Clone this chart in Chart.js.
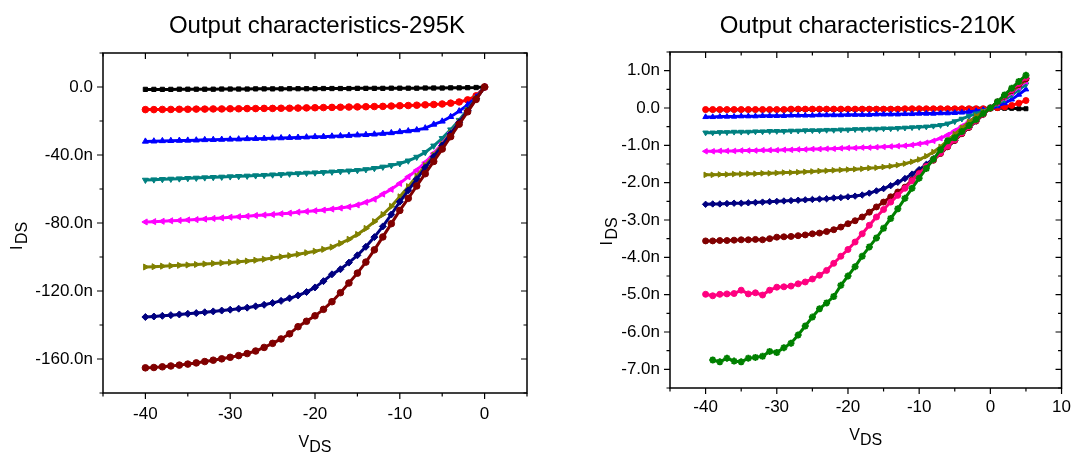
<!DOCTYPE html>
<html>
<head>
<meta charset="utf-8">
<script src="https://cdn.jsdelivr.net/npm/chart.js@4/dist/chart.umd.min.js"></script>
<style>
  body { margin: 0; background: #fff; }
  .box { position: absolute; top: 0; width: 540px; height: 453px; }
</style>
</head>
<body>
<div class="box" style="left:0"><canvas id="chart295"></canvas></div>
<div class="box" style="left:540px"><canvas id="chart210"></canvas></div>
<script>
// ---- 295K data (V_DS in V, I_DS in nA) ----
const vLeft = [-40,-39,-38,-37,-36,-35,-34,-33,-32,-31,-30,-29,-28,-27,-26,-25,-24,-23,-22,-21,-20,-19,-18,-17,-16,-15,-14,-13,-12,-11,-10,-9,-8,-7,-6,-5,-4,-3,-2,-1,0];
const blackL = [-1.4,-1.4,-1.4,-1.4,-1.3,-1.3,-1.3,-1.3,-1.3,-1.2,-1.2,-1.2,-1.2,-1.1,-1.1,-1.1,-1.1,-1.0,-1.0,-1.0,-1.0,-0.9,-0.9,-0.9,-0.9,-0.8,-0.8,-0.8,-0.8,-0.7,-0.7,-0.7,-0.7,-0.6,-0.6,-0.6,-0.5,-0.5,-0.4,-0.3,0];
const redL = [-13.3,-13.3,-13.2,-13.2,-13.1,-13.1,-13.0,-13.0,-12.9,-12.9,-12.8,-12.8,-12.7,-12.7,-12.6,-12.6,-12.5,-12.5,-12.4,-12.3,-12.2,-12.1,-12.0,-11.9,-11.8,-11.7,-11.6,-11.5,-11.4,-11.2,-11.0,-10.9,-10.7,-10.5,-10.3,-10.0,-9.5,-8.8,-7.6,-5.2,0];
const blueL = [-32.0,-31.9,-31.7,-31.6,-31.5,-31.4,-31.3,-31.1,-31.0,-30.9,-30.8,-30.7,-30.5,-30.4,-30.3,-30.1,-30.0,-29.8,-29.7,-29.5,-29.3,-29.2,-29.0,-28.8,-28.6,-28.3,-28.1,-27.8,-27.4,-27.0,-26.4,-25.9,-25.3,-24.2,-22.0,-20.2,-17.5,-14.2,-10.5,-6.0,0];
const tealL = [-54.7,-54.5,-54.3,-54.1,-53.9,-53.7,-53.5,-53.3,-53.1,-52.9,-52.7,-52.5,-52.3,-52.1,-51.9,-51.6,-51.4,-51.1,-50.9,-50.6,-50.4,-50.2,-49.9,-49.6,-49.3,-49.0,-48.5,-47.8,-47.0,-46.1,-45.0,-43.4,-41.2,-38.4,-34.6,-30.2,-25.1,-19.5,-13.2,-6.6,0];
const magentaL = [-79.4,-79.2,-79.0,-78.7,-78.5,-78.2,-78.0,-77.7,-77.3,-77.0,-76.6,-76.3,-76.0,-75.6,-75.3,-75.0,-74.6,-74.2,-73.6,-73.2,-72.8,-72.4,-71.8,-71.2,-70.5,-69.4,-67.8,-66.0,-63.0,-60.2,-56.7,-52.8,-48.9,-44.4,-39.0,-33.2,-27.0,-20.8,-14.0,-7.0,0];
const oliveL = [-105.9,-105.7,-105.4,-105.2,-104.9,-104.7,-104.4,-104.1,-103.8,-103.5,-103.2,-102.8,-102.4,-101.9,-101.3,-100.6,-99.9,-99.2,-98.4,-97.5,-96.6,-95.5,-94.2,-92.0,-89.6,-86.7,-83.2,-79.2,-75.0,-70.2,-64.6,-58.6,-52.4,-46.2,-40.1,-33.8,-27.2,-20.5,-13.7,-6.8,0];
const navyL = [-135.3,-135.0,-134.6,-134.2,-133.8,-133.4,-133.0,-132.5,-132.0,-131.5,-131.0,-130.4,-129.8,-129.0,-128.1,-127.0,-125.8,-124.3,-122.6,-120.6,-117.9,-114.2,-110.2,-107.2,-103.3,-99.0,-94.0,-88.3,-82.0,-75.0,-67.5,-60.8,-54.2,-47.4,-41.0,-34.4,-27.6,-20.8,-13.9,-6.9,0];
const maroonL = [-165.2,-165.0,-164.6,-164.1,-163.6,-163.0,-162.3,-161.5,-160.7,-159.9,-159.0,-158.0,-156.8,-155.3,-153.2,-150.8,-148.2,-145.2,-141.0,-137.8,-134.6,-130.8,-126.3,-121.0,-115.3,-109.5,-103.0,-95.8,-88.2,-80.4,-72.6,-65.5,-58.2,-51.0,-43.8,-36.5,-29.2,-21.9,-14.6,-7.3,0];

// ---- 210K data (V_DS in V, I_DS in nA) ----
const vRight = [-40,-39,-38,-37,-36,-35,-34,-33,-32,-31,-30,-29,-28,-27,-26,-25,-24,-23,-22,-21,-20,-19,-18,-17,-16,-15,-14,-13,-12,-11,-10,-9,-8,-7,-6,-5,-4,-3,-2,-1,0,1,2,3,4,5];
const blackR = [-0.05,-0.05,-0.05,-0.05,-0.05,-0.05,-0.05,-0.05,-0.05,-0.05,-0.05,-0.05,-0.05,-0.04,-0.04,-0.04,-0.04,-0.04,-0.04,-0.04,-0.04,-0.04,-0.03,-0.03,-0.03,-0.03,-0.03,-0.03,-0.03,-0.03,-0.03,-0.03,-0.02,-0.02,-0.02,-0.02,-0.02,-0.01,-0.01,-0.01,0,-0.01,-0.01,-0.01,-0.02,-0.02];
const redR = [-0.04,-0.04,-0.04,-0.04,-0.04,-0.04,-0.04,-0.04,-0.04,-0.04,-0.04,-0.04,-0.03,-0.03,-0.03,-0.03,-0.03,-0.03,-0.03,-0.03,-0.03,-0.03,-0.03,-0.03,-0.03,-0.03,-0.03,-0.03,-0.02,-0.02,-0.02,-0.02,-0.02,-0.02,-0.02,-0.02,-0.02,-0.02,-0.02,-0.02,-0.01,0.01,0.03,0.07,0.13,0.20];
const blueR = [-0.24,-0.24,-0.23,-0.23,-0.23,-0.22,-0.22,-0.22,-0.21,-0.21,-0.21,-0.21,-0.20,-0.20,-0.20,-0.20,-0.19,-0.19,-0.19,-0.19,-0.18,-0.18,-0.18,-0.18,-0.17,-0.17,-0.17,-0.17,-0.16,-0.16,-0.15,-0.15,-0.15,-0.14,-0.14,-0.13,-0.12,-0.10,-0.08,-0.05,-0.02,0.05,0.13,0.23,0.36,0.50];
const tealR = [-0.66,-0.66,-0.65,-0.65,-0.64,-0.64,-0.64,-0.63,-0.63,-0.62,-0.62,-0.62,-0.61,-0.61,-0.60,-0.60,-0.60,-0.59,-0.59,-0.58,-0.58,-0.57,-0.57,-0.56,-0.56,-0.55,-0.55,-0.54,-0.53,-0.52,-0.51,-0.50,-0.48,-0.46,-0.42,-0.36,-0.29,-0.22,-0.15,-0.08,0,0.10,0.22,0.35,0.49,0.63];
const magentaR = [-1.16,-1.16,-1.15,-1.15,-1.15,-1.14,-1.14,-1.14,-1.13,-1.13,-1.13,-1.12,-1.12,-1.11,-1.11,-1.10,-1.10,-1.09,-1.09,-1.08,-1.07,-1.07,-1.06,-1.06,-1.05,-1.04,-1.03,-1.02,-1.01,-0.99,-0.96,-0.93,-0.88,-0.81,-0.72,-0.61,-0.49,-0.36,-0.24,-0.12,0,0.13,0.27,0.41,0.56,0.71];
const oliveR = [-1.79,-1.79,-1.78,-1.78,-1.77,-1.77,-1.76,-1.76,-1.75,-1.75,-1.74,-1.73,-1.73,-1.72,-1.71,-1.70,-1.69,-1.68,-1.67,-1.66,-1.65,-1.64,-1.63,-1.61,-1.60,-1.58,-1.56,-1.53,-1.49,-1.44,-1.38,-1.29,-1.18,-1.04,-0.87,-0.70,-0.53,-0.37,-0.22,-0.10,0,0.14,0.29,0.44,0.60,0.75];
const navyR = [-2.58,-2.57,-2.57,-2.56,-2.55,-2.55,-2.54,-2.53,-2.52,-2.51,-2.50,-2.49,-2.48,-2.47,-2.46,-2.45,-2.44,-2.43,-2.41,-2.40,-2.38,-2.36,-2.33,-2.28,-2.22,-2.16,-2.08,-1.99,-1.89,-1.77,-1.65,-1.51,-1.36,-1.20,-1.04,-0.87,-0.69,-0.52,-0.35,-0.17,0,0.16,0.32,0.48,0.64,0.79];
const maroonR = [-3.56,-3.56,-3.55,-3.55,-3.54,-3.53,-3.53,-3.52,-3.53,-3.50,-3.46,-3.45,-3.44,-3.42,-3.40,-3.37,-3.35,-3.31,-3.26,-3.19,-3.10,-3.02,-2.92,-2.79,-2.65,-2.52,-2.38,-2.25,-2.12,-1.93,-1.74,-1.57,-1.40,-1.22,-1.04,-0.87,-0.69,-0.52,-0.35,-0.17,0,0.16,0.32,0.47,0.63,0.78];
const pinkR = [-4.99,-5.03,-4.99,-4.98,-4.97,-4.88,-4.98,-4.95,-5.01,-4.88,-4.80,-4.79,-4.77,-4.71,-4.66,-4.58,-4.48,-4.35,-4.16,-3.97,-3.79,-3.59,-3.37,-3.14,-2.92,-2.72,-2.52,-2.34,-2.15,-1.95,-1.76,-1.57,-1.38,-1.20,-1.02,-0.85,-0.67,-0.50,-0.33,-0.16,0,0.16,0.33,0.49,0.66,0.82];
const greenR = [null,-6.75,-6.80,-6.70,-6.78,-6.80,-6.70,-6.68,-6.65,-6.52,-6.55,-6.42,-6.30,-6.08,-5.84,-5.60,-5.38,-5.22,-5.05,-4.75,-4.50,-4.25,-3.97,-3.72,-3.48,-3.22,-2.96,-2.70,-2.42,-2.15,-1.88,-1.62,-1.37,-1.12,-0.88,-0.80,-0.63,-0.47,-0.31,-0.15,0,0.17,0.35,0.53,0.71,0.88];

// ---- axis ticks and labels ----
const xTicksL = [-40,-30,-20,-10,0];
const xLabelsL = ['-40','-30','-20','-10','0'];
const xMinorL = [-45,-35,-25,-15,-5,5];
const yTicksL = [0,-40,-80,-120,-160];
const yLabelsL = ['0.0','-40.0n','-80.0n','-120.0n','-160.0n'];
const yMinorL = [20,-20,-60,-100,-140,-180];

const xTicksR = [-40,-30,-20,-10,0,10];
const xLabelsR = ['-40','-30','-20','-10','0','10'];
const xMinorR = [-45,-35,-25,-15,-5,5];
const yTicksR = [1,0,-1,-2,-3,-4,-5,-6,-7];
const yLabelsR = ['1.0n','0.0','-1.0n','-2.0n','-3.0n','-4.0n','-5.0n','-6.0n','-7.0n'];
const yMinorR = [1.5,0.5,-0.5,-1.5,-2.5,-3.5,-4.5,-5.5,-6.5,-7.5];

const FONT = "Arial, 'Liberation Sans', sans-serif";
Chart.defaults.font.family = FONT;
Chart.defaults.color = '#000';

function series(xs, ys, color, style, rot, r) {
    var pts = [];
    xs.forEach((x, i) => { if (ys[i] !== null) pts.push({x: x, y: ys[i]}); });
    return {
        data: pts,
        borderColor: color,
        backgroundColor: color,
        pointStyle: style,
        pointRotation: rot,
        pointRadius: r,
        pointBorderWidth: style === 'star' ? 2 : 1,
        borderWidth: 3,
        showLine: true,
        tension: 0
    };
}

// frame, inward/outward ticks, title and subscripted axis titles
function framePlugin(cfg) {
    return {
        id: 'frame',
        afterDraw(chart) {
            const ctx = chart.ctx, a = chart.chartArea;
            const sx = chart.scales.x, sy = chart.scales.y;
            ctx.save();
            ctx.strokeStyle = '#000';
            ctx.lineWidth = 1.5;
            ctx.strokeRect(a.left, a.top, a.right - a.left, a.bottom - a.top);
            ctx.lineWidth = 1.2;
            function tx(v, len) {
                const p = sx.getPixelForValue(v);
                ctx.beginPath();
                ctx.moveTo(p, a.bottom); ctx.lineTo(p, a.bottom + len);
                ctx.moveTo(p, a.top); ctx.lineTo(p, a.top + len);
                ctx.stroke();
            }
            function ty(v, len) {
                const p = sy.getPixelForValue(v);
                ctx.beginPath();
                ctx.moveTo(a.left, p); ctx.lineTo(a.left - len, p);
                ctx.moveTo(a.right, p); ctx.lineTo(a.right - len, p);
                ctx.stroke();
            }
            cfg.xMajor.forEach(v => tx(v, 6));
            cfg.xMinor.forEach(v => tx(v, 3.5));
            cfg.yMajor.forEach(v => ty(v, 6));
            cfg.yMinor.forEach(v => ty(v, 3.5));

            ctx.fillStyle = '#000';
            const cx = (a.left + a.right) / 2;
            ctx.font = '24px ' + FONT;
            ctx.textAlign = 'center';
            ctx.textBaseline = 'alphabetic';
            ctx.fillText(cfg.title, cx + 2, 33);

            ctx.font = '16px ' + FONT;
            ctx.textAlign = 'left';
            const wV = ctx.measureText('V').width, wD = ctx.measureText('DS').width;
            const x0 = cx - (wV + wD) / 2;
            ctx.fillText('V', x0, cfg.xTitleY);
            ctx.fillText('DS', x0 + wV, cfg.xTitleY + 5);

            ctx.translate(cfg.yTitleX, cfg.yTitleY);
            ctx.rotate(-Math.PI / 2);
            ctx.fillText('I', 0, 0);
            ctx.fillText('DS', ctx.measureText('I').width + 1.5, 5);
            ctx.restore();
        }
    };
}

function makeChart(id, datasets, ax, pad, cfg) {
    return new Chart(document.getElementById(id), {
        type: 'scatter',
        data: { datasets: datasets },
        options: {
            responsive: false,
            animation: false,
            layout: { padding: pad },
            plugins: { legend: { display: false }, tooltip: { enabled: false } },
            scales: {
                x: {
                    type: 'linear', min: ax.xMin, max: ax.xMax,
                    grid: { display: false, drawTicks: false }, border: { display: false },
                    afterBuildTicks: s => { s.ticks = cfg.xMajor.map(v => ({value: v})); },
                    afterFit: s => { s.height = ax.xH; },
                    ticks: { font: { size: 17 }, padding: ax.xPad, maxRotation: 0,
                        callback: (v) => ax.xLabels[ax.xTicks.indexOf(v)] }
                },
                y: {
                    type: 'linear', min: ax.yMin, max: ax.yMax,
                    grid: { display: false, drawTicks: false }, border: { display: false },
                    afterBuildTicks: s => { s.ticks = cfg.yMajor.map(v => ({value: v})); },
                    afterFit: s => { s.width = ax.yW; },
                    ticks: { font: { size: 17 }, padding: 10,
                        callback: (v) => ax.yLabels[ax.yTicks.indexOf(v)] }
                }
            }
        },
        plugins: [framePlugin(cfg)]
    });
}

window.addEventListener('load', () => {
    const c1 = document.getElementById('chart295');
    const c2 = document.getElementById('chart210');
    c1.width = 540; c1.height = 453; c2.width = 540; c2.height = 453;

    const left = [
        series(vLeft, blackL, '#000000', 'rect', 0, 3),
        series(vLeft, redL, '#ff0000', 'circle', 0, 3.3),
        series(vLeft, blueL, '#0000ff', 'triangle', 0, 3.5),
        series(vLeft, tealL, '#008080', 'triangle', 180, 3.5),
        series(vLeft, magentaL, '#ff00ff', 'triangle', -90, 3.5),
        series(vLeft, oliveL, '#808000', 'triangle', 90, 3.5),
        series(vLeft, navyL, '#000080', 'rectRot', 0, 3.5),
        series(vLeft, maroonL, '#800000', 'circle', 0, 3.3)
    ];
    left.forEach((d, i) => d.order = left.length - i);
    makeChart('chart295', left,
        { xMin: -45, xMax: 5, yMin: -180, yMax: 20, xH: 60, yW: 103, xPad: 11,
          xTicks: xTicksL, xLabels: xLabelsL, yTicks: yTicksL, yLabels: yLabelsL },
        { top: 53, right: 13, left: 0, bottom: 0 },
        { title: 'Output characteristics-295K', xMajor: xTicksL, xMinor: xMinorL,
          yMajor: yTicksL, yMinor: yMinorL, xTitleY: 446.5, yTitleX: 21.7, yTitleY: 250 });

    const right = [
        series(vRight, blackR, '#000000', 'rect', 0, 2.8),
        series(vRight, redR, '#ff0000', 'circle', 0, 3),
        series(vRight, blueR, '#0000ff', 'triangle', 0, 3.2),
        series(vRight, tealR, '#008080', 'triangle', 180, 3.2),
        series(vRight, magentaR, '#ff00ff', 'triangle', -90, 3.2),
        series(vRight, oliveR, '#808000', 'triangle', 90, 3.2),
        series(vRight, navyR, '#000080', 'rectRot', 0, 3.2),
        series(vRight, maroonR, '#800000', 'circle', 0, 3),
        series(vRight, pinkR, '#ff0080', 'circle', 0, 3),
        series(vRight, greenR, '#008000', 'star', 0, 3.5)
    ];
    right.forEach((d, i) => d.order = right.length - i);
    makeChart('chart210', right,
        { xMin: -45, xMax: 10, yMin: -7.5, yMax: 1.5, xH: 65, yW: 130, xPad: 9,
          xTicks: xTicksR, xLabels: xLabelsR, yTicks: yTicksR, yLabels: yLabelsR },
        { top: 52, right: 11, left: 0, bottom: 0 },
        { title: 'Output characteristics-210K', xMajor: xTicksR, xMinor: xMinorR,
          yMajor: yTicksR, yMinor: yMinorR, xTitleY: 439.5, yTitleX: 71.7, yTitleY: 245.5 });
});
</script>
</body>
</html>
